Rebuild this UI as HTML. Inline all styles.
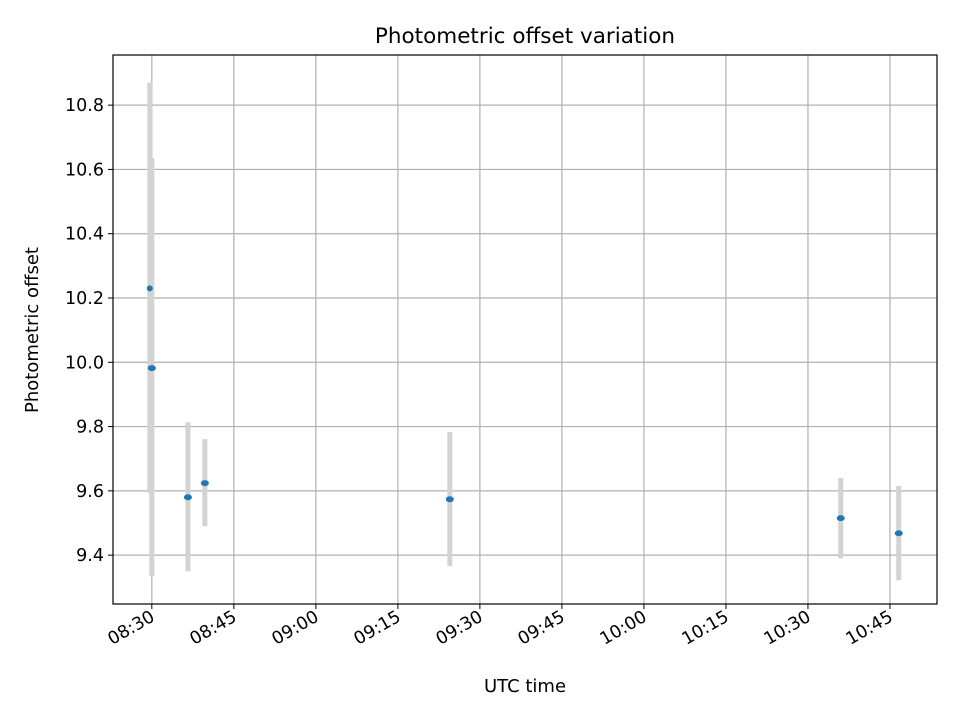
<!DOCTYPE html>
<html><head><meta charset="utf-8"><style>
body{margin:0;background:#fff;font-family:"Liberation Sans","DejaVu Sans",sans-serif}
svg text{font-family:"DejaVu Sans","Liberation Sans",sans-serif}
</style></head><body>
<svg id="chart" width="960" height="720" xmlns="http://www.w3.org/2000/svg">
<rect width="960" height="720" fill="#fff"/>
<g id="grid"></g>
<g id="bars"></g>
<g id="pts"></g>
<rect x="113" y="55" width="824" height="549" fill="none" stroke="#000" stroke-width="1.2"/>
<g id="ticks"></g>
<text x="525" y="43" font-size="21.5" text-anchor="middle">Photometric offset variation</text>
<text x="525" y="692" font-size="18" text-anchor="middle">UTC time</text>
<text x="38" y="330" font-size="18" text-anchor="middle" transform="rotate(-90 38 330)">Photometric offset</text>
</svg>
<script>
const times=[-0.37,0,6.6,9.7,54.5,126.0,136.6];
const values=[10.23,9.982,9.58,9.624,9.574,9.515,9.468];
const lowers=[9.593,9.335,9.35,9.49,9.366,9.39,9.322];
const uppers=[10.87,10.635,9.814,9.761,9.783,9.64,9.615];
const yTicks=[9.4,9.6,9.8,10.0,10.2,10.4,10.6,10.8];
const xTickMins=[0,15,30,45,60,75,90,105,120,135];
const xTickLabels=["08:30","08:45","09:00","09:15","09:30","09:45","10:00","10:15","10:30","10:45"];
const L=113,R=937,T=55,B=604,xMin=-7.1,xMax=143.6,yMin=9.248,yMax=10.956;
const X=m=>L+(m-xMin)/(xMax-xMin)*(R-L);
const Y=v=>B-(v-yMin)/(yMax-yMin)*(B-T);
const NS="http://www.w3.org/2000/svg";
function mk(p,t,a){const e=document.createElementNS(NS,t);for(const k in a)e.setAttribute(k,a[k]);p.appendChild(e);return e;}
const grid=document.getElementById('grid'),ticks=document.getElementById('ticks'),bars=document.getElementById('bars'),pts=document.getElementById('pts');
yTicks.forEach(v=>{const y=Y(v);
const g=mk(grid,'line',{x1:L,x2:R,y1:y,y2:y,stroke:'#b0b0b0','stroke-width':1.2});


const t=mk(ticks,'line',{x1:L-5,x2:L,y1:y,y2:y,stroke:'#000'});


const l=mk(ticks,'text',{x:L-9,y:y+6,'font-size':17.5,'text-anchor':'end'});l.textContent=v.toFixed(1);


});
xTickMins.forEach((m,i)=>{const x=X(m);
const g=mk(grid,'line',{x1:x,x2:x,y1:T,y2:B,stroke:'#b0b0b0','stroke-width':1.2});


const t=mk(ticks,'line',{x1:x,x2:x,y1:B,y2:B+5,stroke:'#000'});


const l=mk(ticks,'text',{x:x+4,y:B+16,'font-size':17.5,'text-anchor':'end',transform:`rotate(-30 ${x+4} ${B+16})`});l.textContent=xTickLabels[i];


});
times.forEach((m,i)=>{const x=X(m);
const b=mk(bars,'line',{x1:x,x2:x,y1:Y(uppers[i]),y2:Y(lowers[i]),stroke:'#d3d3d3','stroke-width':5});


const c=mk(pts,'ellipse',{cx:x,cy:Y(values[i]),rx:i==0?3:4,ry:3,fill:'#1f77b4'});


});
</script>
</body></html>
